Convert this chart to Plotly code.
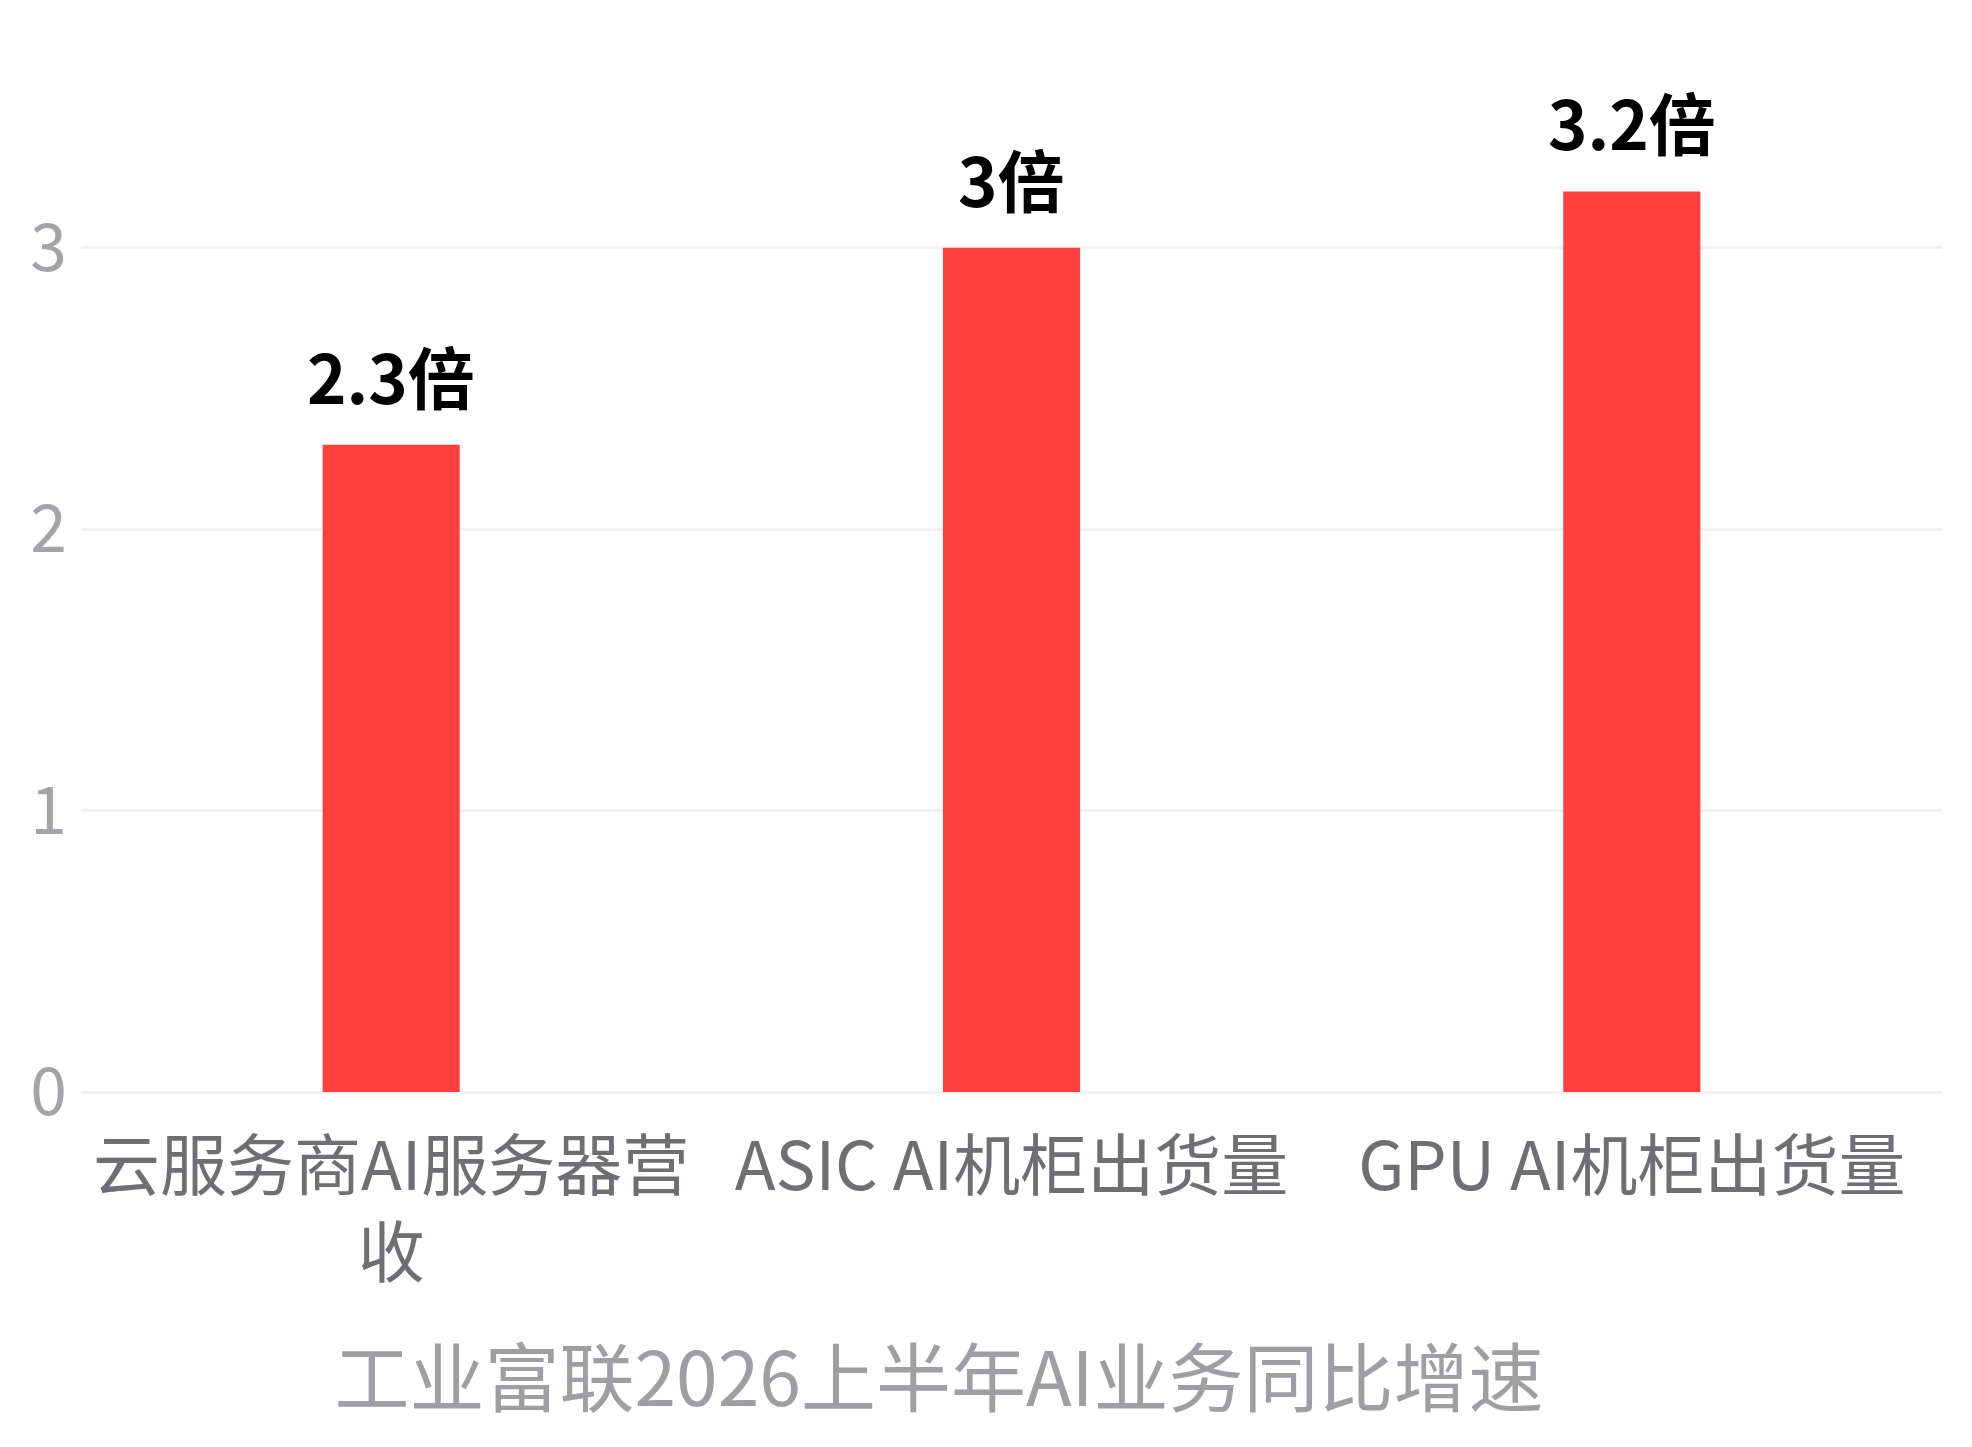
import plotly.graph_objects as go

# 工业富联2026上半年AI业务同比增速 (倍)
categories = ['云服务商AI服务器营<br>收', 'ASIC AI机柜出货量', 'GPU AI机柜出货量']
growth = [2.3, 3, 3.2]
y_ticks = [0, 1, 2, 3]

FONT = 'Noto Sans CJK SC'

fig = go.Figure(
    go.Bar(
        x=categories,
        y=growth,
        marker=dict(color='#FF403C', line=dict(width=0)),
        hoverinfo='skip'
    )
)

# value labels above each bar
for cat, val in zip(categories, growth):
    fig.add_annotation(
        x=cat, y=val,
        text=f'{val:g}倍',
        showarrow=False,
        yanchor='bottom',
        yshift=20,
        font=dict(family=FONT, size=67, color='#000000', weight='bold')
    )

fig.update_layout(
    width=1972,
    height=1447,
    margin=dict(l=73, r=38, t=99, b=363),
    plot_bgcolor='white',
    paper_bgcolor='white',
    bargap=0.779,
    showlegend=False,
    font=dict(family=FONT),
    title=dict(
        text='工业富联2026上半年AI业务同比增速',
        font=dict(family=FONT, size=75, color='#9E9EA3'),
        x=931 / 1972,
        xanchor='center',
        y=1 - 1372 / 1447,
        yanchor='middle'
    ),
    xaxis=dict(
        showgrid=False,
        showline=False,
        ticks='',
        tickfont=dict(family=FONT, size=67, color='#6E6E73'),
        ticklabelstandoff=30
    ),
    yaxis=dict(
        range=[0, 3.5],
        tickvals=y_ticks,
        showgrid=True,
        gridcolor='#F2F2F2',
        gridwidth=2.5,
        zeroline=True,
        zerolinecolor='#F2F2F2',
        zerolinewidth=2.5,
        showline=False,
        ticks='',
        tickfont=dict(family=FONT, size=66, color='#A3A3A8'),
        ticklabelstandoff=13
    )
)

fig.write_html('out.html')
